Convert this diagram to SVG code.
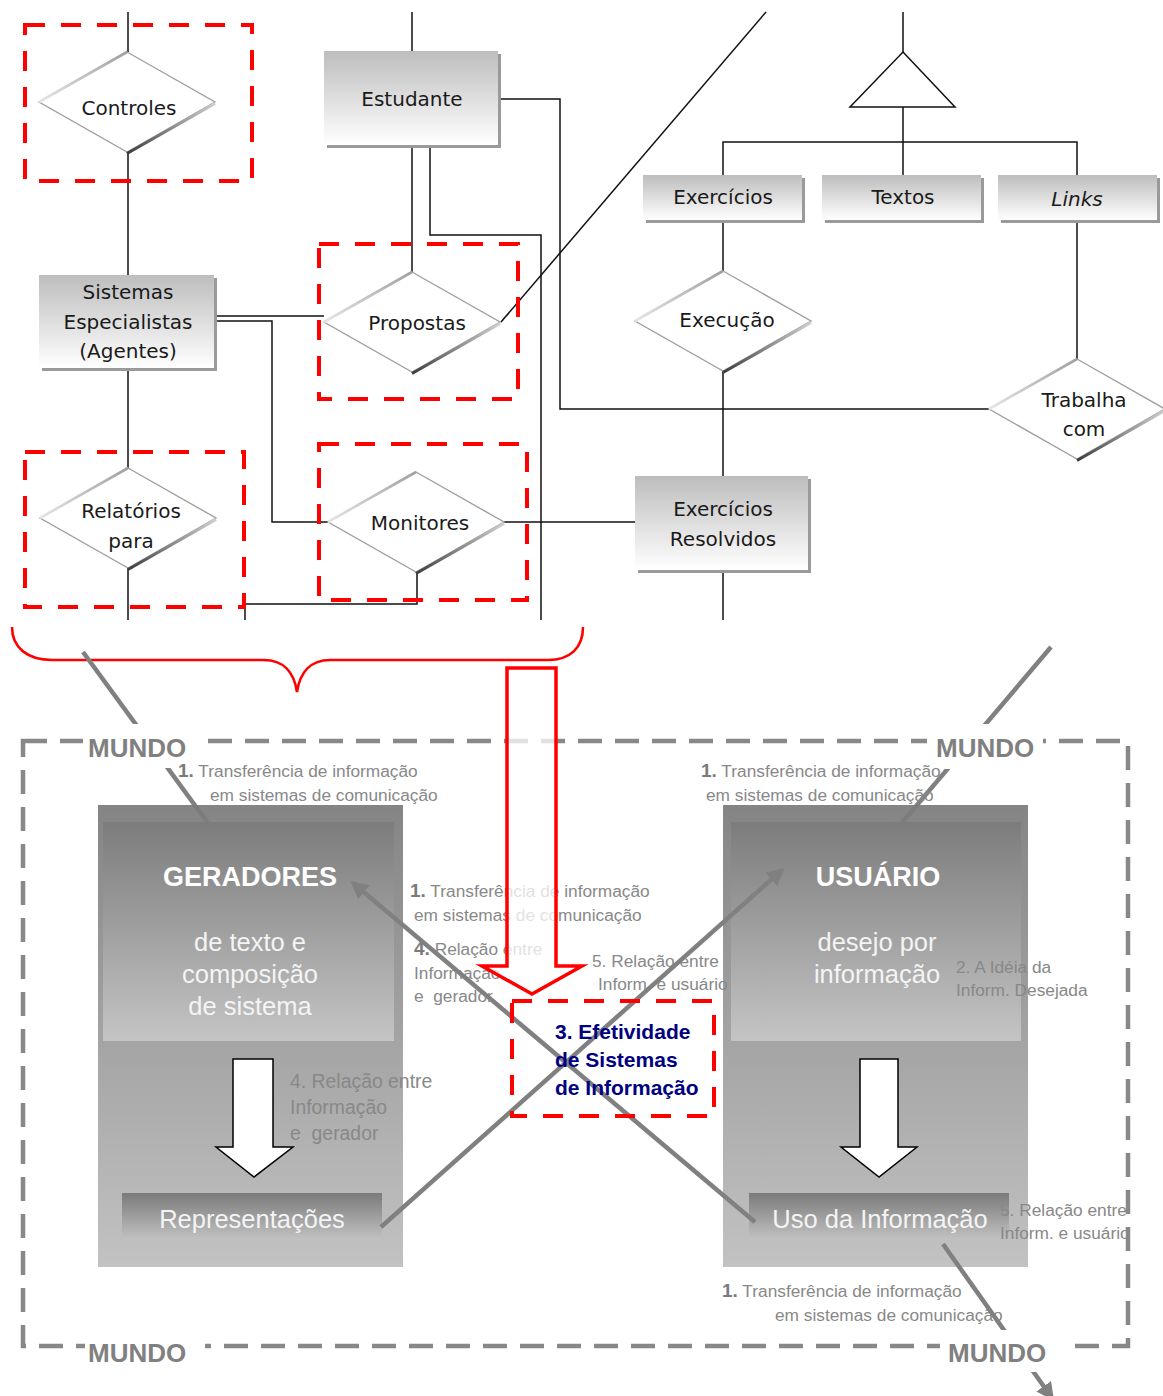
<svg xmlns="http://www.w3.org/2000/svg" width="1163" height="1396" viewBox="0 0 1163 1396">
<style>
  .wire{fill:none;stroke:#111;stroke-width:1.5}
  .er{font-family:"DejaVu Sans","Noto Sans",sans-serif;font-size:20px;fill:#1a1a1a;text-anchor:middle}
  .hot{fill:none;stroke:#ff0000;stroke-width:4;stroke-dasharray:20 16}
  .world{fill:none;stroke:#888;stroke-width:4.5;stroke-dasharray:24 13}
  .mundo{font-family:"Liberation Sans",Arial,sans-serif;font-size:26px;font-weight:bold;fill:#808080}
  .note{font-family:"Liberation Sans",Arial,sans-serif;font-size:17.3px;fill:#888}
  .num{font-size:19px;font-weight:bold;fill:#7a7a7a}
  .head{font-family:"Liberation Sans",Arial,sans-serif;font-size:27px;font-weight:bold;fill:#fff;text-anchor:middle}
  .body{font-family:"Liberation Sans",Arial,sans-serif;font-size:25.5px;fill:#f4f4f4;text-anchor:middle}
  .ray{fill:none;stroke:#808080;stroke-width:4.5}
  .navy{font-family:"Liberation Sans",Arial,sans-serif;font-size:21px;font-weight:bold;fill:#000080}
</style>
<defs>
  <linearGradient id="entFill" x1="0" y1="0" x2="0" y2="1">
    <stop offset="0" stop-color="#bdbdbd"/><stop offset="1" stop-color="#ffffff"/>
  </linearGradient>
  <linearGradient id="edgeLo" x1="1" y1="0" x2="0" y2="1">
    <stop offset="0" stop-color="#d0d0d0"/><stop offset="0.5" stop-color="#8a8a8a"/><stop offset="1" stop-color="#3c3c3c"/>
  </linearGradient>
  <linearGradient id="edgeHi" x1="0" y1="1" x2="1" y2="0">
    <stop offset="0" stop-color="#e6e6e6"/><stop offset="1" stop-color="#a0a0a0"/>
  </linearGradient>
  <linearGradient id="outerFill" x1="0" y1="0" x2="0" y2="1">
    <stop offset="0" stop-color="#7a7a7a"/><stop offset="1" stop-color="#bdbdbd"/>
  </linearGradient>
  <linearGradient id="innerFill" x1="0" y1="0" x2="0" y2="1">
    <stop offset="0" stop-color="#7c7c7c"/><stop offset="1" stop-color="#c4c4c4"/>
  </linearGradient>
  <linearGradient id="barFill" x1="0" y1="0" x2="0" y2="1">
    <stop offset="0" stop-color="#7a7a7a"/><stop offset="1" stop-color="#c2c2c2"/>
  </linearGradient>
  <g id="diamond">
    <polygon points="0,-50 88,0 0,50 -88,0" fill="#fff" stroke="#a0a0a0" stroke-width="1.4"/>
    <line x1="-88" y1="0" x2="0" y2="-50" stroke="url(#edgeHi)" stroke-width="2.6"/>
    <line x1="88" y1="1.5" x2="0" y2="51.5" stroke="url(#edgeLo)" stroke-width="3"/>
  </g>
  <marker id="grayHead" viewBox="0 0 10 10" refX="8" refY="5" markerWidth="4" markerHeight="4" orient="auto" markerUnits="strokeWidth">
    <path d="M0,0 L10,5 L0,10 z" fill="#808080"/>
  </marker>
</defs>

<rect width="1163" height="1396" fill="#fff"/>

<!-- entity-relationship connectors -->
<g id="er-connectors" class="wire">
  <path d="M128,12 V52"/>
  <path d="M128,152 V275"/>
  <path d="M128,368 V468"/>
  <path d="M128,568 V620"/>
  <path d="M412,12 V51"/>
  <path d="M412,145 V272"/>
  <path d="M430,145 V235 H541 V620"/>
  <path d="M498,99 H560 V409 H990"/>
  <path d="M214,316 H324"/>
  <path d="M214,321 H272 V522 H328"/>
  <path d="M501,322 L766,12"/>
  <path d="M504,522 H635"/>
  <path d="M417,572 V604 H245 V620"/>
  <path d="M903,12 V52"/>
  <polygon points="903,52 955,107 850,107" fill="#fff"/>
  <path d="M903,107 V175"/>
  <path d="M723,175 V142 H1077 V175"/>
  <path d="M723,220 V271"/>
  <path d="M723,371 V476"/>
  <path d="M723,570 V620"/>
  <path d="M1077,220 V359"/>
</g>

<!-- entities -->
<g id="estudante">
  <rect x="327" y="54" width="174" height="94" fill="#9a9a9a"/>
  <rect x="324" y="51" width="174" height="94" fill="url(#entFill)"/>
  <text class="er" x="412" y="106">Estudante</text>
</g>
<g id="sistemas-especialistas">
  <rect x="42" y="278" width="175" height="93" fill="#9a9a9a"/>
  <rect x="39" y="275" width="175" height="93" fill="url(#entFill)"/>
  <text class="er" x="128" y="299">Sistemas</text>
  <text class="er" x="128" y="329">Especialistas</text>
  <text class="er" x="128" y="358">(Agentes)</text>
</g>
<g id="exercicios">
  <rect x="646" y="178" width="159" height="45" fill="#9a9a9a"/>
  <rect x="643" y="175" width="159" height="45" fill="url(#entFill)"/>
  <text class="er" x="723" y="204">Exercícios</text>
</g>
<g id="textos">
  <rect x="825" y="178" width="159" height="45" fill="#9a9a9a"/>
  <rect x="822" y="175" width="159" height="45" fill="url(#entFill)"/>
  <text class="er" x="903" y="204">Textos</text>
</g>
<g id="links">
  <rect x="1001" y="178" width="159" height="45" fill="#9a9a9a"/>
  <rect x="998" y="175" width="159" height="45" fill="url(#entFill)"/>
  <text class="er" x="1077" y="206" font-style="italic">Links</text>
</g>
<g id="exercicios-resolvidos">
  <rect x="638" y="479" width="173" height="94" fill="#9a9a9a"/>
  <rect x="635" y="476" width="173" height="94" fill="url(#entFill)"/>
  <text class="er" x="723" y="516">Exercícios</text>
  <text class="er" x="723" y="546">Resolvidos</text>
</g>

<!-- relationships -->
<g id="controles" transform="translate(127,102)">
  <use href="#diamond"/>
  <text class="er" x="2" y="13">Controles</text>
</g>
<g id="propostas" transform="translate(412,322)">
  <use href="#diamond"/>
  <text class="er" x="5" y="8">Propostas</text>
</g>
<g id="relatorios-para" transform="translate(128,518)">
  <use href="#diamond"/>
  <text class="er" x="3" y="0">Relatórios</text>
  <text class="er" x="3" y="30">para</text>
</g>
<g id="monitores" transform="translate(416,522)">
  <use href="#diamond"/>
  <text class="er" x="4" y="8">Monitores</text>
</g>
<g id="execucao" transform="translate(723,321)">
  <use href="#diamond"/>
  <text class="er" x="4" y="6">Execução</text>
</g>
<g id="trabalha-com" transform="translate(1077,409)">
  <use href="#diamond"/>
  <text class="er" x="7" y="-2">Trabalha</text>
  <text class="er" x="7" y="27">com</text>
</g>

<!-- highlighted relationships -->
<g id="highlights">
  <rect class="hot" x="25" y="25" width="227" height="156"/>
  <rect class="hot" x="319" y="244" width="199" height="155"/>
  <rect class="hot" x="25" y="452" width="219" height="155"/>
  <rect class="hot" x="319" y="444" width="208" height="156"/>
  <path d="M12,627 C12,648 28,660 52,660 L264,660 C283,660 294,672 297,692 C300,672 311,660 330,660 L548,660 C570,660 583,648 583,627" fill="none" stroke="#ff0000" stroke-width="2.6"/>
</g>

<!-- world-level rays passing under the panels -->
<g id="world-rays-under">
  <path class="ray" d="M83,652 L229,852" marker-end="url(#grayHead)"/>
  <path class="ray" d="M1051,647 L889,838" marker-end="url(#grayHead)"/>
</g>

<!-- panels -->
<g id="geradores">
  <rect x="98" y="805" width="305" height="462" fill="url(#outerFill)" fill-opacity="0.92"/>
  <rect x="103" y="822" width="291" height="219" fill="url(#innerFill)"/>
  <text class="head" x="250" y="886">GERADORES</text>
  <text class="body" x="250" y="951">de texto e</text>
  <text class="body" x="250" y="983">composição</text>
  <text class="body" x="250" y="1015">de sistema</text>
  <path d="M233,1059 H273 V1147 H293 L254,1177 L216,1147 H233 Z" fill="#fff" stroke="#000" stroke-width="1.5"/>
  <rect x="122" y="1193" width="260" height="47" fill="url(#barFill)"/>
  <text class="body" x="252" y="1228">Representações</text>
</g>
<g id="usuario">
  <rect x="723" y="805" width="305" height="462" fill="url(#outerFill)" fill-opacity="0.92"/>
  <rect x="731" y="822" width="290" height="219" fill="url(#innerFill)"/>
  <text class="head" x="878" y="886">USUÁRIO</text>
  <text class="body" x="877" y="951" font-size="26">desejo por</text>
  <text class="body" x="877" y="983" font-size="26">informação</text>
  <path d="M860,1059 H898 V1147 H917 L879,1177 L841,1147 H860 Z" fill="#fff" stroke="#000" stroke-width="1.5"/>
  <rect x="749" y="1193" width="260" height="47" fill="url(#barFill)"/>
  <text class="body" x="880" y="1228" font-size="25">Uso da Informação</text>
</g>

<!-- annotations -->
<g id="notes" class="note">
  <text x="178" y="777"><tspan class="num">1.</tspan> Transferência de informação</text>
  <text x="210" y="801">em sistemas de comunicação</text>
  <text x="701" y="777"><tspan class="num">1.</tspan> Transferência de informação</text>
  <text x="706" y="801">em sistemas de comunicação</text>
  <text x="410" y="897"><tspan class="num">1.</tspan> Transferência de informação</text>
  <text x="414" y="921">em sistemas de comunicação</text>
  <text x="414" y="955"><tspan class="num" font-size="18">4.</tspan> Relação entre</text>
  <text x="414" y="979">Informação</text>
  <text x="414" y="1002">e&#160; gerador</text>
  <text x="592" y="967">5. Relação entre</text>
  <text x="598" y="990">Inform. e usuário</text>
  <text x="956" y="973">2. A Idéia da</text>
  <text x="956" y="996">Inform. Desejada</text>
  <text x="290" y="1088" font-size="19.4">4. Relação entre</text>
  <text x="290" y="1114" font-size="19.4">Informação</text>
  <text x="290" y="1140" font-size="19.4">e&#160; gerador</text>
  <text x="1000" y="1216">5. Relação entre</text>
  <text x="1000" y="1239">Inform. e usuário</text>
  <text x="722" y="1297"><tspan class="num">1.</tspan> Transferência de informação</text>
  <text x="775" y="1321">em sistemas de comunicação</text>
</g>

<!-- world boundary -->
<rect class="world" x="23" y="741" width="1105" height="605"/>

<!-- outgoing ray from the usage bar -->
<path class="ray" d="M943,1244 L1052,1398" marker-end="url(#grayHead)"/>

<!-- world labels -->
<g id="mundo-labels">
  <rect x="83" y="729" width="112" height="33" fill="#fff"/>
  <rect x="83" y="724" width="88" height="44" fill="#fff"/>
  <text class="mundo" x="88" y="757">MUNDO</text>
  <rect x="927" y="729" width="116" height="33" fill="#fff"/>
  <rect x="945" y="724" width="56" height="45" fill="#fff"/>
  <text class="mundo" x="936" y="757">MUNDO</text>
  <rect x="85" y="1333" width="120" height="34" fill="#fff"/>
  <text class="mundo" x="88" y="1362">MUNDO</text>
  <rect x="940" y="1330" width="125" height="42" fill="#fff"/>
  <text class="mundo" x="948" y="1362">MUNDO</text>
</g>

<!-- crossing rays -->
<g id="cross-rays">
  <path class="ray" d="M381,1227 L782,870" marker-end="url(#grayHead)"/>
  <path class="ray" d="M755,1222 L353,883" marker-end="url(#grayHead)"/>
</g>

<!-- red transfer arrow -->
<path id="transfer-arrow" d="M507,668 H556 V966 H582 L532,994 L482,966 H507 Z" fill="#fff" fill-opacity="0.75" stroke="#ff0000" stroke-width="3.5"/>

<!-- effectiveness box -->
<g id="efetividade">
  <rect class="hot" x="512" y="1001" width="202" height="115"/>
  <text class="navy" x="555" y="1039">3. Efetividade</text>
  <text class="navy" x="555" y="1067">de Sistemas</text>
  <text class="navy" x="555" y="1095">de Informação</text>
</g>
</svg>
